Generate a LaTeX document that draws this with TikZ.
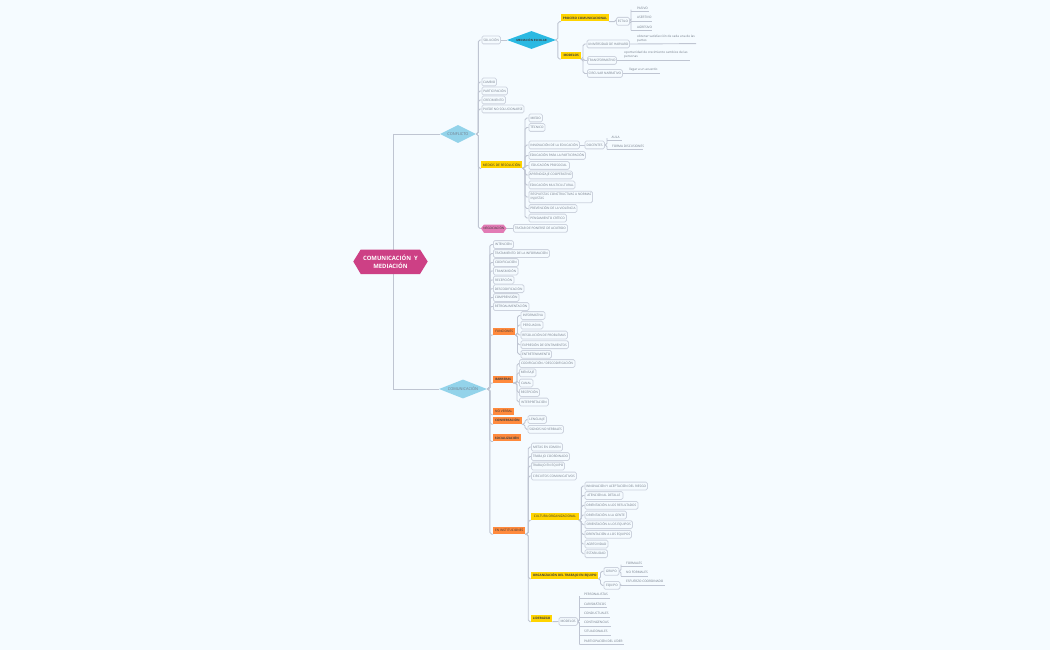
\documentclass[tikz,border=0pt]{standalone}
\usepackage{fontspec}
\setmainfont{Open Sans}
\usetikzlibrary{shapes.geometric,backgrounds}
\definecolor{bgc}{HTML}{F5FBFF}
\definecolor{linec}{HTML}{BFC5D2}
\definecolor{edgec}{HTML}{CDD3DE}
\definecolor{txtc}{HTML}{737C8A}
\definecolor{yel}{HTML}{FFD400}
\definecolor{ora}{HTML}{FF8A3D}
\definecolor{sky}{HTML}{93D3EA}
\definecolor{cyanc}{HTML}{2AB9E2}
\definecolor{rootc}{HTML}{CD4085}
\definecolor{pinkc}{HTML}{E27BB5}
\tikzset{
  small/.style={font=\fontsize{3.15}{4.3}\selectfont,text=txtc},
  box/.style={small,draw=edgec,line width=.8pt,fill=bgc,rounded corners=1.4pt,minimum height=7.8pt,inner sep=0pt,align=left},
  tag/.style={font=\fontsize{3.1}{4.3}\selectfont\bfseries,text=black!75,minimum height=7pt,inner sep=0pt},
  tagn/.style={font=\fontsize{3.2}{4.3}\selectfont,text=black!80,minimum height=7pt,inner sep=0pt},
  yellowtag/.style={tag,fill=yel},
  orangetag/.style={tag,fill=ora},
  yellowtagn/.style={tagn,fill=yel},
  orangetagn/.style={tagn,fill=ora},
  conn/.style={draw=linec,line width=.9pt,rounded corners=1.8pt},
  under/.style={draw=linec,line width=.9pt},
  mainlabel/.style={font=\fontsize{3.9}{5}\selectfont,text=txtc},
}
% box: name, x0, x1, y, text
\newcommand{\bx}[5]{\node[box,anchor=west,minimum width=#3pt-#2pt] (#1) at (#2,#4) {#5};}
% coloured tag: style, name, x0, x1, y, text
\newcommand{\tg}[6]{\node[#1,anchor=west,minimum width=#4pt-#3pt] (#2) at (#3,#5) {#6};}
% underlined text: name, x0 of line, x1 of line, y of line, x of text, y of text, text
\newcommand{\ul}[7]{\coordinate (#1L) at (#2,#4);\coordinate (#1R) at (#3,#4);\node[small,inner sep=0pt,anchor=west] (#1) at (#5,#6) {#7};}
% connector: from, bracket coordinate, to
\newcommand{\lnk}[3]{\draw[conn] (#1) -- (#1 -| #2) -- (#2 |- #3) -- (#3);}
\newcommand{\ulnk}[3]{\draw[conn] (#1) -- (#1 -| #2) -- (#2 |- #3L) -- (#3L);\draw[under] (#3L) -- (#3R);}
\begin{document}
\begin{tikzpicture}[x=1pt,y=-1pt]
\useasboundingbox (0,0) rectangle (1050,650);
\begin{scope}[on background layer]
\fill[bgc] (0,0) rectangle (1050,650);
\end{scope}
% bracket positions
\coordinate (bTrunk) at (393.3,0);
\coordinate (bConf) at (478.3,0);
\coordinate (bMed) at (557.8,0);
\coordinate (bEst) at (631,0);
\coordinate (bMod) at (583,0);
\coordinate (bRes) at (525,0);
\coordinate (bDoc) at (607,0);
\coordinate (bCom) at (489.8,0);
\coordinate (bFun) at (517.5,0);
\coordinate (bBar) at (517,0);
\coordinate (bCnv) at (525,0);
\coordinate (bIns) at (528.2,0);
\coordinate (bCul) at (581.3,0);
\coordinate (bOrg) at (600.5,0);
\coordinate (bGru) at (621,0);
\coordinate (bEqu) at (619.5,0);
\coordinate (bLid) at (579.5,0);
% root
\fill[rootc] (353.3,261.5) -- (360.7,249.5) -- (420,249.5) -- (427.7,261.5) -- (420,274) -- (360.7,274) -- cycle;
\node[font=\fontsize{5.9}{8.4}\selectfont\bfseries,text=white,align=center,inner sep=0pt] (root) at (390.5,261.5) {COMUNICACIÓN\ \ Y\\MEDIACIÓN};
% main diamonds
\node[diamond,aspect=2,fill=sky,minimum width=36pt,minimum height=18pt,inner sep=0pt,mainlabel] (conf) at (458,134) {CONFLICTO};
\node[diamond,aspect=2.4,fill=sky,minimum width=48pt,minimum height=19pt,inner sep=0pt,mainlabel] (comu) at (463,389) {COMUNICACIÓN};
% conflict branch
\bx{sol}{481.5}{500}{40}{SOLUCIÓN}
\node[diamond,aspect=2.7,fill=cyanc,minimum width=49pt,minimum height=18pt,inner sep=0pt,font=\fontsize{2.9}{4}\selectfont\bfseries,text=black!75] (med) at (531.5,40) {MEDIACIÓN ESCOLAR};
\tg{yellowtag}{proc}{561}{608.5}{18}{PROCESO COMUNICACIONAL}
\tg{yellowtag}{mode}{561}{581}{55.3}{MODELOS}
\bx{esti}{616}{629}{21.3}{ESTILO}
\ul{pasi}{631}{649}{11.5}{637}{8}{PASIVO}
\ul{aser}{631}{652}{21}{637}{17.5}{ASERTIVO}
\ul{agre}{631}{652}{30.3}{637}{27}{AGRESIVO}
\bx{harv}{586.6}{629}{44}{UNIVERSIDAD DE HARVARD}
\node[small,inner sep=0pt,anchor=west,align=left] (harvT) at (637,39) {obtener satisfacción de cada una de las\\partes};
\coordinate (harvE) at (696,43.6);
\bx{trans}{587}{616}{60.5}{TRANSFORMATIVO}
\node[small,inner sep=0pt,anchor=west,align=left] (transT) at (624,54.7) {oportunidad de crecimiento cambios de las\\personas};
\coordinate (transE) at (690,60.5);
\bx{circ}{587}{622}{73.5}{CIRCULAR NARRATIVO}
\node[small,inner sep=0pt,anchor=west] (circT) at (629,70) {llegar a un acuerdo};
\coordinate (circE) at (660,73.3);
\bx{camb}{481.5}{496}{82}{CAMBIO}
\bx{part}{481.5}{507}{91}{PARTICIPACIÓN}
\bx{crec}{481.5}{505}{100}{CRECIMIENTO}
\bx{pued}{481.5}{523.5}{109}{PUEDE NO SOLUCIONARSE}
\tg{yellowtagn}{mres}{481}{522}{164.7}{MEDIOS DE RESOLUCIÓN}
\bx{mied}{528.5}{542}{118}{MIEDO}
\bx{tecn}{528.5}{544.5}{127.5}{TÉCNICO}
\bx{inno}{528.5}{579}{145}{INNOVACIÓN DE LA EDUCACIÓN}
\bx{doce}{584.5}{604}{145}{DOCENTES}
\ul{aula}{607}{622}{140}{611.5}{137}{AULA}
\ul{form}{607}{643}{149.3}{612}{146.5}{FORMA DISCUSIONES}
\bx{epar}{528.5}{585}{155.5}{EDUCACIÓN PARA LA PARTICIPACIÓN}
\bx{epro}{528.5}{569}{165.5}{EDUCACIÓN PROSOCIAL}
\bx{apre}{528.5}{572}{175}{APRENDIZAJE COOPERATIVO}
\bx{emul}{528.5}{574.5}{185}{EDUCACIÓN MULTICULTURAL}
\node[box,anchor=west,minimum width=63.5pt,minimum height=11.5pt] (resp) at (528.5,197) {\ RESPUESTAS CONSTRUCTIVAS A NORMAS\\\ INJUSTAS};
\bx{prev}{528.5}{576.5}{208.5}{PREVENCIÓN DE LA VIOLENCIA}
\bx{pens}{528.5}{566}{218}{PENSAMIENTO CRÍTICO}
\fill[pinkc] (481,228.3) -- (484,224.5) -- (503.5,224.5) -- (506.5,228.3) -- (503.5,232.8) -- (484,232.8) -- cycle;
\node[font=\fontsize{3.1}{4.3}\selectfont,text=black!80,inner sep=0pt] (nego) at (493.8,228.5) {NEGOCIACIÓN};
\bx{trat}{513}{567}{228.3}{TRATAR DE PONERSE DE ACUERDO}
% communication branch
\bx{inte}{493}{513}{244.5}{INTENCIÓN}
\bx{trai}{493}{549}{253.5}{TRATAMIENTO DE LA INFORMACIÓN}
\bx{codi}{493}{518}{262.5}{CODIFICACIÓN}
\bx{trsm}{493}{517.5}{271}{TRANSMISIÓN}
\bx{rece}{493}{513.5}{280}{RECEPCIÓN}
\bx{desc}{493}{523.5}{288.7}{DESCODIFICACIÓN}
\bx{comp}{493}{518.5}{297.5}{COMPRENSIÓN}
\bx{retr}{493}{528.5}{306.5}{RETROALIMENTACIÓN}
\tg{orangetagn}{func}{493}{515}{331.3}{FUNCIONES}
\bx{info}{520.5}{544.5}{315.5}{INFORMATIVA}
\bx{pers}{520.5}{542.5}{325}{PERSUASIVA}
\bx{reso}{520.5}{567}{335}{RESOLUCIÓN DE PROBLEMAS}
\bx{expr}{520.5}{568}{344.7}{EXPRESIÓN DE SENTIMIENTOS}
\bx{entr}{520.5}{551}{354.3}{ENTRETENIMIENTO}
\tg{orangetag}{barr}{493}{513}{379.3}{BARRERAS}
\bx{cdes}{519}{574.5}{363.5}{CODIFICACIÓN / DESCODIFICACIÓN}
\bx{mens}{519}{535.5}{372.8}{MENSAJE}
\bx{cana}{519}{532.5}{383}{CANAL}
\bx{recb}{519}{539}{392.5}{RECEPCIÓN}
\bx{inte2}{519}{548}{402}{INTERPRETACIÓN}
\tg{orangetagn}{nove}{493}{514}{411}{NO VERBAL}
\tg{orangetag}{conv}{493}{521.5}{420.5}{CONVERSACIÓN}
\bx{leng}{527.5}{546}{419.5}{LENGUAJE}
\bx{sign}{527.5}{563}{429.3}{SIGNOS NO VERBALES}
\tg{orangetag}{soci}{493}{520.5}{437.8}{SOCIALIZACIÓN}
\tg{orangetagn}{inst}{493}{525}{530.5}{EN INSTITUCIONES}
\bx{meta}{531}{562}{447}{METAS EN COMÚN}
\bx{tcoo}{531}{569}{456.5}{TRABAJO COORDINADO}
\bx{tequ}{531}{564}{466}{TRABAJO EN EQUIPO}
\bx{circu}{531}{576}{476}{CIRCUITOS COMUNICATIVOS}
\tg{yellowtagn}{cult}{531}{578.5}{516.5}{CULTURA ORGANIZACIONAL}
\bx{oinn}{584.5}{647}{486}{INNOVACIÓN Y ACEPTACIÓN DEL RIESGO}
\bx{oate}{584.5}{622.5}{495.5}{ATENCIÓN AL DETALLE}
\bx{ores}{584.5}{637.5}{505.3}{ORIENTACIÓN A LOS RESULTADOS}
\bx{ogen}{584.5}{626}{515}{ORIENTACIÓN A LA GENTE}
\bx{oeq}{584.5}{632}{524.7}{ORIENTACIÓN A LOS EQUIPOS}
\bx{oeqb}{584.5}{631}{534.3}{ORIENTACIÓN A LOS EQUIPOS}
\bx{agrs}{584.5}{607.5}{544}{AGRESIVIDAD}
\bx{esta}{584.5}{607}{553.7}{ESTABILIDAD}
\tg{yellowtag}{orga}{531}{598}{575}{ORGANIZACIÓN DEL TRABAJO EN EQUIPO}
\bx{grup}{603.5}{618.5}{571.3}{GRUPO}
\bx{equi}{603.5}{619.5}{585.3}{EQUIPO}
\ul{forl}{621}{643}{566.5}{626}{563}{FORMALES}
\ul{nofo}{621}{648}{576}{626}{572.5}{NO FORMALES}
\ul{esfu}{619.5}{665}{585}{626}{581.5}{ESFUERZO COORDINADO}
\tg{yellowtag}{lide}{531}{552}{618}{LIDERAZGO}
\bx{mods}{558.5}{577}{621.5}{MODELOS}
\ul{lper}{579.5}{609.5}{598}{584}{594.3}{PERSONALISTAS}
\ul{lcar}{579.5}{607}{607.7}{584}{603.7}{CARISMÁTICOS}
\ul{lcon}{579.5}{610}{617}{584}{613.3}{CONDUCTUALES}
\ul{lctg}{579.5}{611}{626}{584}{622.3}{CONTINGENCIAS}
\ul{lsit}{579.5}{611}{635}{584}{631.3}{SITUACIONALES}
\ul{lpar}{579.5}{624}{644.7}{584}{641}{PARTICIPACIÓN DEL LÍDER}
% connectors
\begin{scope}[on background layer]
\draw[conn] (bTrunk |- conf.west) -- (conf.west);
\draw[conn] (bTrunk |- comu.west) -- (comu.west);
\draw[conn,rounded corners=0pt] (bTrunk |- conf.west) -- (bTrunk |- comu.west);
\foreach \c in {sol,camb,part,crec,pued,mres.south west,nego.west}{\lnk{conf.east}{bConf}{\c}}
\draw[conn] (sol) -- (med);
\lnk{med.east}{bMed}{proc.south west}
\lnk{med.east}{bMed}{mode.south west}
\draw[conn] (proc.south east) -- (proc.south east -| esti.west) -- (esti.west);
\ulnk{esti}{bEst}{pasi}
\ulnk{esti}{bEst}{aser}
\ulnk{esti}{bEst}{agre}
\foreach \c in {harv,trans,circ}{\lnk{mode.south east}{bMod}{\c}}
\draw[under] (harv.east) -- (harvE);
\draw[under] (trans.east) -- (transE);
\draw[under] (circ.east |- circE) -- (circE);
\foreach \c in {mied,tecn,inno,epar,epro,apre,emul,resp,prev,pens}{\lnk{mres.south east}{bRes}{\c}}
\draw[conn] (inno) -- (doce);
\ulnk{doce}{bDoc}{aula}
\ulnk{doce}{bDoc}{form}
\draw[conn] (nego.east) -- (trat);
\foreach \c in {inte,trai,codi,trsm,rece,desc,comp,retr,func.south west,barr.south west,nove.south west,conv.south west,soci.south west,inst.south west}{\lnk{comu.east}{bCom}{\c}}
\foreach \c in {info,pers,reso,expr,entr}{\lnk{func.south east}{bFun}{\c}}
\foreach \c in {cdes,mens,cana,recb,inte2}{\lnk{barr.south east}{bBar}{\c}}
\foreach \c in {leng,sign}{\lnk{conv.south east}{bCnv}{\c}}
\foreach \c in {meta,tcoo,tequ,circu,cult.south west,orga.south west,lide.south west}{\lnk{inst.south east}{bIns}{\c}}
\foreach \c in {oinn,oate,ores,ogen,oeq,oeqb,agrs,esta}{\lnk{cult.south east}{bCul}{\c}}
\foreach \c in {grup,equi}{\lnk{orga.south east}{bOrg}{\c}}
\ulnk{grup}{bGru}{forl}
\ulnk{grup}{bGru}{nofo}
\ulnk{equi}{bEqu}{esfu}
\draw[conn] (lide.south east) -- (mods.west);
\foreach \c in {lper,lcar,lcon,lctg,lsit,lpar}{\ulnk{mods}{bLid}{\c}}
\end{scope}
\end{tikzpicture}
\end{document}
